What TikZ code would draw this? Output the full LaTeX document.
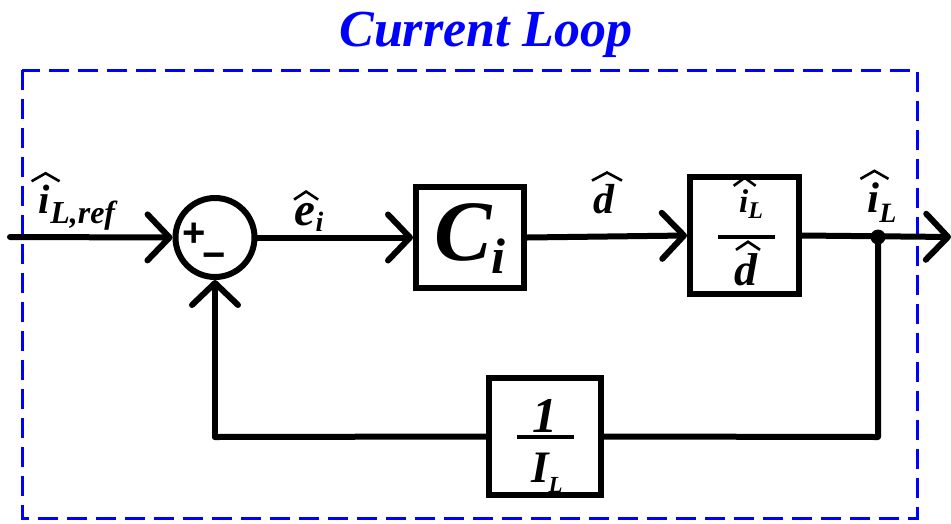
\documentclass[tikz,border=0pt]{standalone}
\usepackage{fontspec}
\setmainfont{Liberation Serif}
\newfontfamily\signsfont{Liberation Sans}
\usetikzlibrary{arrows.meta}
\definecolor{loopblue}{RGB}{0,0,255}
% letter with a wide hat that takes no width of its own:
% #1 hat width, #2 horizontal shift of the hat, #3 letter
\newcommand\hatted[3]{\leavevmode\vbox{\offinterlineskip\halign{\hfil##\hfil\cr
  \hbox to 0pt{\hss\kern#2\kern#2\tikz[x=1pt,y=1pt]\draw[line width=2.6pt,line join=miter,line cap=butt] (0,0) -- (#1/2,8) -- (#1,0);\hss}\cr
  \noalign{\kern2pt}#3\cr}}}
\newcommand\sz[1]{\fontsize{#1}{#1}\selectfont}
\newcommand\lowsub[2]{\raisebox{-#1}{#2}}
\begin{document}
\begin{tikzpicture}[x=1pt,y=-1pt,
  wire/.style={line width=6pt, line cap=round, line join=round},
  arr/.style={wire, -{Straight Barb[length=22pt,width=46pt,line width=6pt,round]}},
  block/.style={draw, line width=6pt, inner sep=0pt},
  lbl/.style={inner sep=0pt, anchor=base, font=\bfseries\itshape},
  fracbar/.style={line width=3.5pt},
  sumnode/.style={draw, circle, line width=6pt, minimum size=79pt, inner sep=0pt}]
\useasboundingbox (0,0) rectangle (951,523);

% frame and title
\draw[loopblue, line width=3pt, dash pattern=on 20pt off 9pt] (22,70) rectangle (917,518);
\node[lbl, text=loopblue, font=\sz{52}\bfseries\itshape] (title) at (486,46) {Current Loop};

% summing junction
\node[sumnode] (sum) at (215,237.5) {};
\node[inner sep=0pt, font=\signsfont\bfseries\sz{40}] (plus) at (194,235) {+};
\node[inner sep=0pt, font=\signsfont\bfseries\sz{40}] (minus) at (214,261) {−};

% controller block
\node[block, minimum width=108pt, minimum height=101pt] (ci) at (470,237.5) {};
\node[lbl, font=\sz{86}\bfseries\itshape] (citext) at (470,260)
  {C\lowsub{13pt}{\sz{50}i}};

% plant block: i_L over d
\node[block, minimum width=109pt, minimum height=117pt] (plant) at (744.5,235.5) {};
\node[lbl, font=\sz{33}\bfseries\itshape] (pnum) at (751,212)
  {\hatted{22}{1pt}{i}\lowsub{6pt}{\sz{24}L}};
\node[lbl, font=\sz{46}\bfseries\itshape] (pden) at (746,285)
  {\hatted{24}{2pt}{d}};
\draw[fracbar] (718,237) -- (775,237);

% feedback block: 1 over I_L
\node[block, minimum width=112pt, minimum height=117pt] (fb) at (545,436.5) {};
\node[lbl, font=\sz{50}\bfseries\itshape] (fnum) at (545,432) {1};
\node[lbl, font=\sz{45}\bfseries\itshape] (fden) at (547,482)
  {I\lowsub{10pt}{\sz{23}L}};
\draw[fracbar] (517,437) -- (574,437);

% signal points
\coordinate (in) at (10,237);
\coordinate (out) at (951,237);
\coordinate (tap) at (878,237);
\coordinate (c1) at (878,437);
\coordinate (c2) at (215,437);
\fill (tap) circle (7.5pt);

% connectors
\draw[arr] (in) -- (sum.west);
\draw[arr] (sum.east) -- (ci.west);
\draw[arr] (ci.east) -- (plant.west);
\draw[arr] (plant.east) -- (out);
\draw[wire] (tap) -- (c1) -- (fb.east);
\draw[wire] (fb.west) -- (c2);
\draw[arr] (c2) -- (sum.south);

% signal labels
\node[lbl, font=\sz{41}\bfseries\itshape] (lref) at (77,213)
  {\hatted{28}{1pt}{i}\lowsub{10pt}{\sz{32}L,ref}};
\node[lbl, font=\sz{47}\bfseries\itshape] (lerr) at (309,225)
  {\hatted{24}{1pt}{e}\lowsub{6pt}{\sz{28}i}};
\node[lbl, font=\sz{42}\bfseries\itshape] (lduty) at (604,213)
  {\hatted{30}{3pt}{d}};
\node[lbl, font=\sz{43}\bfseries\itshape] (lout) at (882,212)
  {\hatted{28}{1pt}{i}\lowsub{10pt}{\sz{28}L}};
\end{tikzpicture}
\end{document}
